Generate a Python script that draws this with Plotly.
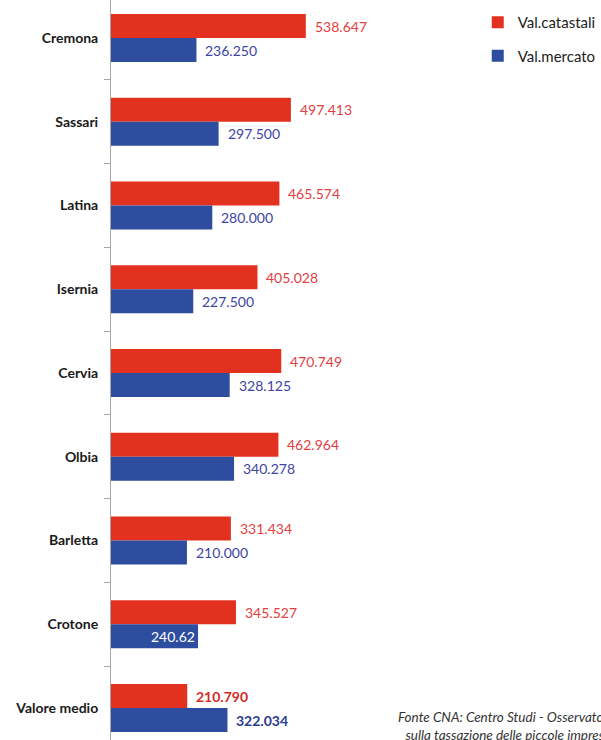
import plotly.graph_objects as go

# Values per town (in the Italian notation shown on the labels)
cities = ["Cremona", "Sassari", "Latina", "Isernia", "Cervia",
          "Olbia", "Barletta", "Crotone", "Valore medio"]
val_catastali = [538.647, 497.413, 465.574, 405.028, 470.749,
                 462.964, 331.434, 345.527, 210.790]
val_mercato = [236.250, 297.500, 280.000, 227.500, 328.125,
               340.278, 210.000, 240.62, 322.034]
label_catastali = ["538.647", "497.413", "465.574", "405.028", "470.749",
                   "462.964", "331.434", "345.527", "210.790"]
label_mercato = ["236.250", "297.500", "280.000", "227.500", "328.125",
                 "340.278", "210.000", "240.62", "322.034"]

RED = "#e3311f"
BLUE = "#2f4d9f"
RED_TXT = "#e2403f"
BLUE_TXT = "#3d44a4"
FONT = "Lato"

BAR_W = 0.2866

fig = go.Figure()
fig.add_trace(go.Bar(
    y=cities, x=val_catastali, orientation="h", name="Val.catastali",
    marker=dict(color=RED, line=dict(width=0)),
    width=BAR_W, offset=-BAR_W, legendgroup="a",
))
fig.add_trace(go.Bar(
    y=cities, x=val_mercato, orientation="h", name="Val.mercato",
    marker=dict(color=BLUE, line=dict(width=0)),
    width=BAR_W, offset=0, legendgroup="b",
))

annotations = []
last = len(cities) - 1
for i, city in enumerate(cities):
    bold = i == last
    annotations.append(dict(
        x=val_catastali[i], y=city, xref="x", yref="y",
        text=label_catastali[i], showarrow=False,
        xanchor="left", yanchor="middle", xshift=7, yshift=12,
        font=dict(family=FONT, size=14,
                  color="#d42a24" if bold else RED_TXT,
                  weight="bold" if bold else "normal"),
    ))
    inside = label_mercato[i] == "240.62"
    annotations.append(dict(
        x=val_mercato[i], y=city, xref="x", yref="y",
        text=label_mercato[i], showarrow=False,
        xanchor="right" if inside else "left", yanchor="middle",
        xshift=-1 if inside else 7, yshift=-12,
        font=dict(family=FONT, size=14,
                  color="white" if inside else ("#2b3a92" if bold else BLUE_TXT),
                  weight="bold" if bold else "normal"),
    ))

annotations.append(dict(
    x=(398 - 111) / 490, y=1 - 707 / 740, xref="paper", yref="paper",
    xanchor="left", yanchor="top", align="center", showarrow=False,
    text="<i>Fonte CNA: Centro Studi - Osservatorio</i><br>"
         "<i>sulla tassazione delle piccole imprese</i>",
    font=dict(family=FONT, size=13.5, color="#333333"),
))

fig.update_layout(
    width=601, height=740,
    margin=dict(l=111, r=0, t=0, b=0),
    paper_bgcolor="white", plot_bgcolor="white",
    showlegend=True,
    legend=dict(
        x=(480 - 111) / 490, xanchor="left", y=1 - 6 / 740, yanchor="top",
        font=dict(family=FONT, size=15, color="#222222"),
        tracegroupgap=11, bgcolor="rgba(0,0,0,0)",
        itemwidth=30,
    ),
    annotations=annotations,
    xaxis=dict(range=[0, 1346.5], showgrid=False, zeroline=False,
               showticklabels=False, showline=False, ticks=""),
    yaxis=dict(
        type="category", categoryorder="array", categoryarray=cities,
        range=[8.382, -0.4537],
        showline=True, linecolor="#a8a8a8", linewidth=1,
        ticks="outside", tickson="boundaries", ticklen=6, tickcolor="#a8a8a8",
        ticklabelstandoff=9,
        tickfont=dict(family=FONT, size=14, color="#1a1a1a", weight="bold"),
        showgrid=False, zeroline=False,
    ),
)

fig.write_html("out.html")
